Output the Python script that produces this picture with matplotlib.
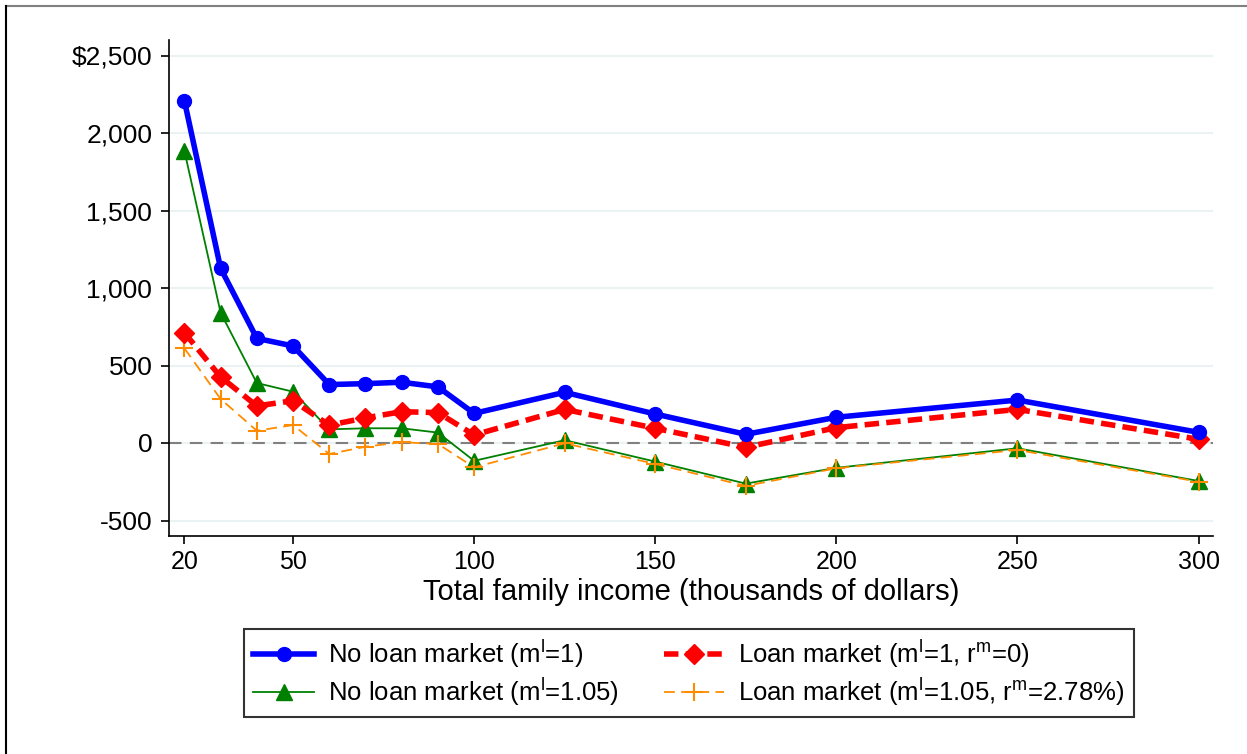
import numpy as np
import matplotlib.pyplot as plt
from matplotlib.lines import Line2D
from matplotlib.ticker import FuncFormatter

plt.rcParams['font.family'] = ['Liberation Sans', 'DejaVu Sans']
plt.rcParams['mathtext.fontset'] = 'custom'
plt.rcParams['mathtext.rm'] = 'Liberation Sans'
plt.rcParams['mathtext.it'] = 'Liberation Sans'

# income levels (thousands of dollars)
income = [20, 30, 40, 50, 60, 70, 80, 90, 100, 125, 150, 175, 200, 250, 300]

# series values (dollars)
no_loan_1 = [2208, 1127, 675, 626, 377, 383, 392, 362, 191, 327, 187, 56, 166, 277, 69]
loan_1 = [712, 426, 239, 273, 115, 162, 202, 196, 52, 217, 95, -28, 99, 217, 24]
no_loan_105 = [1885, 841, 387, 331, 88, 95, 95, 67, -115, 18, -120, -262, -160, -34, -245]
loan_105 = [611, 284, 79, 116, -71, -24, 5, -6, -157, -2, -135, -277, -163, -45, -250]

labels = [r'No loan market (m$^{\mathrm{l}}$=1)',
          r'Loan market (m$^{\mathrm{l}}$=1, r$^{\mathrm{m}}$=0)',
          r'No loan market (m$^{\mathrm{l}}$=1.05)',
          r'Loan market (m$^{\mathrm{l}}$=1.05, r$^{\mathrm{m}}$=2.78%)']

xticks = [20, 50, 100, 150, 200, 250, 300]
yticks = [-500, 0, 500, 1000, 1500, 2000, 2500]

W, H = 1247, 754
fig = plt.figure(figsize=(W / 100, H / 100), dpi=100)
ax = fig.add_axes([169 / W, 1 - 536 / H, (1213 - 169) / W, (536 - 40) / H])

for y in yticks:
    ax.axhline(y, color='#eaf2f3', lw=1.5, zorder=0)
ax.axhline(0, color='#808080', lw=1.5, ls=(0, (6, 4)), zorder=1)

h1, = ax.plot(income, no_loan_1, color='#0000ff', lw=4, marker='o', ms=10, zorder=5)
h2, = ax.plot(income, loan_1, color='#ff0000', lw=4, ls=(0, (2.6, 1.3)),
              marker='D', ms=10, zorder=4)
h3, = ax.plot(income, no_loan_105, color='#008000', lw=1.3, marker='^', ms=11, zorder=3)
h4, = ax.plot(income, loan_105, color='#ff8c00', lw=1.3, ls=(0, (6, 3.5)),
              marker='+', ms=13, mew=1.5, zorder=3)

ax.set_xlim(15.75, 304)
ax.set_ylim(-600, 2600)
ax.set_xticks(xticks)
ax.set_yticks(yticks)
ax.yaxis.set_major_formatter(FuncFormatter(
    lambda v, p: ('$' if v == 2500 else '') + f'{int(v):,}'))
for s in ['top', 'right']:
    ax.spines[s].set_visible(False)
for s in ['left', 'bottom']:
    ax.spines[s].set_linewidth(1.2)
ax.tick_params(direction='out', length=6, width=1.2)
ax.tick_params(axis='x', labelsize=18, pad=4)
ax.tick_params(axis='y', labelsize=19, pad=6)
ax.set_xlabel('Total family income (thousands of dollars)', fontsize=21, labelpad=3)

# row-wise order like the original: blue, red / green, orange
leg = fig.legend([h1, h3, h2, h4], [labels[0], labels[2], labels[1], labels[3]],
                 ncol=2, loc='center',
                 bbox_to_anchor=(689 / W, 1 - 673 / H), fontsize=18.5,
                 handlelength=2.35, columnspacing=1.75, handletextpad=0.55,
                 frameon=True, fancybox=False, edgecolor='black',
                 borderpad=0.38, labelspacing=0.2, borderaxespad=0)
leg.get_frame().set_linewidth(1.5)

# outer border bits
fig.add_artist(Line2D([6 / W, 1], [1 - 5.5 / H, 1 - 5.5 / H], color='#808080', lw=1.5))
fig.add_artist(Line2D([6 / W, 6 / W], [0, 1 - 5.5 / H], color='black', lw=1.5))

fig.savefig('out.png', dpi=100)
